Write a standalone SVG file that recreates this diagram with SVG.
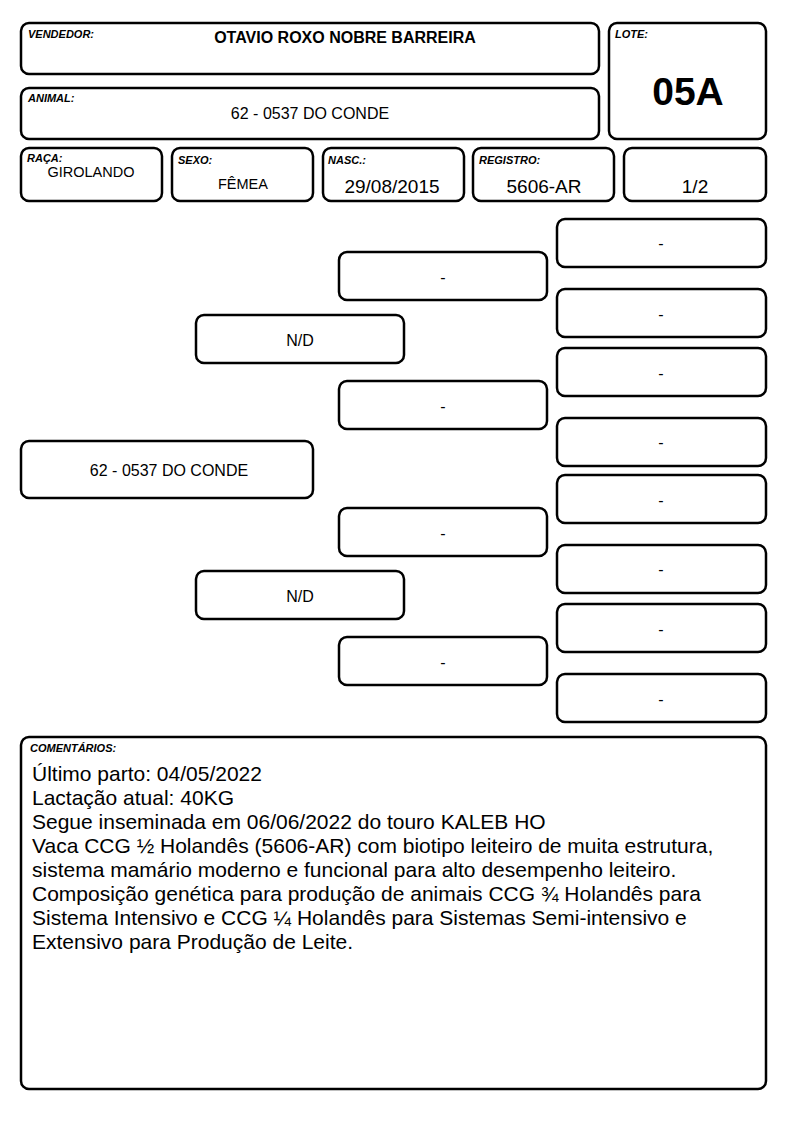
<svg xmlns="http://www.w3.org/2000/svg" width="794" height="1123" viewBox="0 0 794 1123">
<style>
rect.b{fill:#fff;stroke:#000;stroke-width:2.5}
text{font-family:"Liberation Sans",Arial,sans-serif;fill:#000}
.lab{font-size:11px;font-weight:bold;font-style:italic}
.v{font-size:16px;text-anchor:middle}
.v14{font-size:14.5px;text-anchor:middle}
.v19{font-size:19px;text-anchor:middle}
.p{font-size:16px;text-anchor:middle;dominant-baseline:central}
.c{font-size:21px}
</style>
<rect width="794" height="1123" fill="#fff"/>
<g id="vendedor"><rect class="b" x="21" y="23" width="578" height="51" rx="8"/><text class="lab" x="28" y="38">VENDEDOR:</text><text class="v" x="345" y="43" font-weight="bold">OTAVIO ROXO NOBRE BARREIRA</text></g>
<g id="lote"><rect class="b" x="609" y="23" width="157" height="116" rx="8"/><text class="lab" x="615" y="38">LOTE:</text><text x="688" y="105" font-size="39" font-weight="bold" text-anchor="middle">05A</text></g>
<g id="animal"><rect class="b" x="21" y="88" width="578" height="51" rx="8"/><text class="lab" x="28" y="102">ANIMAL:</text><text class="v" x="310" y="119">62 - 0537 DO CONDE</text></g>
<g id="raca"><rect class="b" x="21" y="148" width="141" height="53" rx="8"/><text class="lab" x="27" y="162">RAÇA:</text><text class="v14" x="91" y="177">GIROLANDO</text></g>
<g id="sexo"><rect class="b" x="172" y="148" width="141" height="53" rx="8"/><text class="lab" x="178" y="164">SEXO:</text><text class="v14" x="243" y="189">FÊMEA</text></g>
<g id="nasc"><rect class="b" x="323" y="148" width="141" height="53" rx="8"/><text class="lab" x="328" y="164">NASC.:</text><text class="v19" x="392" y="193">29/08/2015</text></g>
<g id="registro"><rect class="b" x="473" y="148" width="141" height="53" rx="8"/><text class="lab" x="479" y="164">REGISTRO:</text><text class="v19" x="544" y="193">5606-AR</text></g>
<g id="fracao"><rect class="b" x="624" y="148" width="142" height="53" rx="8"/><text class="v19" x="695" y="193">1/2</text></g>
<g id="animal-ped"><rect class="b" x="21" y="441" width="292" height="57" rx="8"/><text class="p" x="169" y="470">62 - 0537 DO CONDE</text></g>
<g id="pai"><rect class="b" x="196" y="315" width="208" height="48" rx="8"/><text class="p" x="300" y="340">N/D</text></g>
<g id="mae"><rect class="b" x="196" y="571" width="208" height="48" rx="8"/><text class="p" x="300" y="596">N/D</text></g>
<g id="avo1"><rect class="b" x="339" y="252" width="208" height="48" rx="8"/><text class="p" x="443" y="277">-</text></g>
<g id="avo2"><rect class="b" x="339" y="381" width="208" height="48" rx="8"/><text class="p" x="443" y="406">-</text></g>
<g id="avo3"><rect class="b" x="339" y="508" width="208" height="48" rx="8"/><text class="p" x="443" y="533">-</text></g>
<g id="avo4"><rect class="b" x="339" y="637" width="208" height="48" rx="8"/><text class="p" x="443" y="662">-</text></g>
<g id="bisavo1"><rect class="b" x="557" y="219" width="209" height="48" rx="8"/><text class="p" x="661" y="243">-</text></g>
<g id="bisavo2"><rect class="b" x="557" y="289" width="209" height="48" rx="8"/><text class="p" x="661" y="314">-</text></g>
<g id="bisavo3"><rect class="b" x="557" y="348" width="209" height="48" rx="8"/><text class="p" x="661" y="373">-</text></g>
<g id="bisavo4"><rect class="b" x="557" y="418" width="209" height="48" rx="8"/><text class="p" x="661" y="442">-</text></g>
<g id="bisavo5"><rect class="b" x="557" y="475" width="209" height="48" rx="8"/><text class="p" x="661" y="500">-</text></g>
<g id="bisavo6"><rect class="b" x="557" y="545" width="209" height="48" rx="8"/><text class="p" x="661" y="569">-</text></g>
<g id="bisavo7"><rect class="b" x="557" y="604" width="209" height="48" rx="8"/><text class="p" x="661" y="629">-</text></g>
<g id="bisavo8"><rect class="b" x="557" y="674" width="209" height="48" rx="8"/><text class="p" x="661" y="699">-</text></g>
<g id="connectors"></g>
<g id="comentarios"><rect class="b" x="21" y="737" width="745" height="352" rx="8"/><text class="lab" x="30" y="752">COMENTÁRIOS:</text>
<text class="c" x="32" y="781">Último parto: 04/05/2022</text>
<text class="c" x="32" y="805">Lactação atual: 40KG</text>
<text class="c" x="32" y="829">Segue inseminada em 06/06/2022 do touro KALEB HO</text>
<text class="c" x="32" y="853">Vaca CCG ½ Holandês (5606-AR) com biotipo leiteiro de muita estrutura,</text>
<text class="c" x="32" y="877">sistema mamário moderno e funcional para alto desempenho leiteiro.</text>
<text class="c" x="32" y="901">Composição genética para produção de animais CCG ¾ Holandês para</text>
<text class="c" x="32" y="925">Sistema Intensivo e CCG ¼ Holandês para Sistemas Semi-intensivo e</text>
<text class="c" x="32" y="949">Extensivo para Produção de Leite.</text>
</g>
</svg>
